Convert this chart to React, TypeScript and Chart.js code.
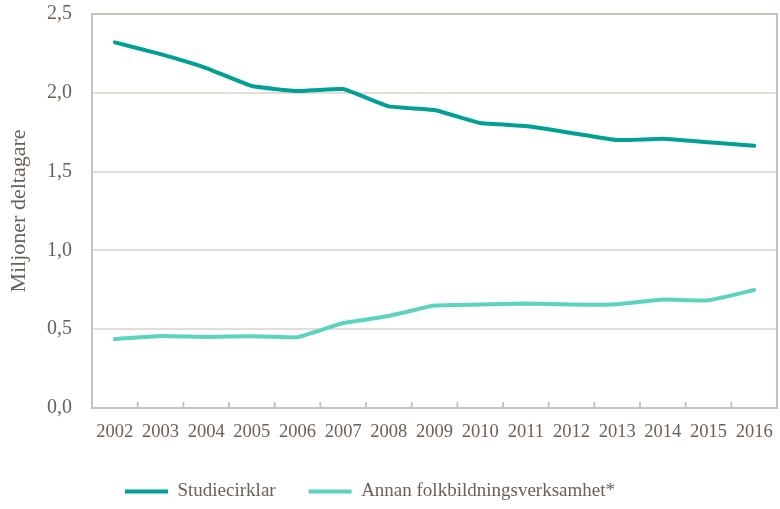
import React, { useEffect, useRef } from "react";
import { Chart, registerables } from "chart.js";

Chart.register(...registerables);

const years = ["2002","2003","2004","2005","2006","2007","2008","2009","2010","2011","2012","2013","2014","2015","2016"];
const studiecirklar = [2.32, 2.245, 2.157, 2.043, 2.011, 2.024, 1.914, 1.891, 1.808, 1.789, 1.745, 1.700, 1.708, 1.686, 1.664];
const annan = [0.438, 0.457, 0.451, 0.455, 0.449, 0.539, 0.584, 0.650, 0.656, 0.663, 0.656, 0.659, 0.688, 0.683, 0.749];
const seriesNames = ["Studiecirklar", "Annan folkbildningsverksamhet*"];
const yTitle = "Miljoner deltagare";

const TEXT = "#6b6057";
const BORDER = "#cbc3bb";
const GRID = "#e3ddd8";
const DARK = "#00a095";
const LIGHT = "#5cd3bd";
const FONT = '"Liberation Serif", "Times New Roman", serif';

const framePlugin = {
  id: "frame",
  beforeDatasetsDraw(chart: any) {
    const { ctx, chartArea } = chart;
    const { left, right, top, bottom } = chartArea;
    const x = chart.scales.x;
    ctx.save();
    ctx.strokeStyle = BORDER;
    ctx.lineWidth = 2;
    ctx.beginPath();
    ctx.rect(left, top, right - left, bottom - top);
    ctx.stroke();
    ctx.beginPath();
    for (let i = 1; i < years.length; i++) {
      const px = (x.getPixelForTick(i - 1) + x.getPixelForTick(i)) / 2;
      ctx.moveTo(px, bottom);
      ctx.lineTo(px, bottom - 6);
    }
    ctx.stroke();
    ctx.restore();
  },
};

export default function App() {
  const ref = useRef<HTMLCanvasElement | null>(null);
  useEffect(() => {
    if (!ref.current) return;
    Chart.defaults.font.family = FONT;
    Chart.defaults.color = TEXT;
    const chart = new Chart(ref.current, {
      type: "line",
      data: {
        labels: years,
        datasets: [
          {
            label: seriesNames[0],
            data: studiecirklar,
            borderColor: DARK,
            backgroundColor: DARK,
            borderWidth: 4,
            pointRadius: 0,
            borderCapStyle: "round",
            borderJoinStyle: "round",
            tension: 0.1,
          },
          {
            label: seriesNames[1],
            data: annan,
            borderColor: LIGHT,
            backgroundColor: LIGHT,
            borderWidth: 4,
            pointRadius: 0,
            borderCapStyle: "round",
            borderJoinStyle: "round",
            tension: 0.1,
          },
        ],
      },
      options: {
        animation: false,
        responsive: false,
        devicePixelRatio: 1,
        layout: { padding: { top: 14, right: 3, left: 0, bottom: 0 } },
        plugins: {
          tooltip: { enabled: false },
          legend: {
            position: "bottom",
            fullSize: false,
            align: "start",
            maxHeight: 60,
            labels: {
              usePointStyle: true,
              pointStyle: "line",
              pointStyleWidth: 43,
              boxHeight: 19,
              padding: 33,
              color: TEXT,
              font: { size: 19, family: FONT },
            },
          },
        },
        scales: {
          x: {
            offset: true,
            grid: { display: false, offset: true },
            border: { display: false },
            ticks: { color: TEXT, font: { size: 18.5, family: FONT }, padding: 5, maxRotation: 0, autoSkip: false },
            afterFit: (s: any) => { s.height = 41; },
          },
          y: {
            min: 0,
            max: 2.5,
            grid: { color: GRID, lineWidth: 2, drawTicks: false },
            border: { display: false },
            ticks: {
              stepSize: 0.5,
              padding: 20,
              color: TEXT,
              font: { size: 20, family: FONT },
              callback: (v: any) => Number(v).toFixed(1).replace(".", ","),
            },
            title: { display: true, text: yTitle, color: TEXT, font: { size: 22, family: FONT }, padding: { top: 6, bottom: 0 } },
            afterFit: (s: any) => { s.width = 92; s.paddingTop = 0; s.paddingBottom = 0; },
          },
        },
      },
      plugins: [framePlugin],
    });
    return () => chart.destroy();
  }, []);
  return (
    <div style={{ position: "absolute", left: 0, top: 0, width: 780, height: 509, background: "#fff" }}>
      <canvas ref={ref} width={780} height={509} />
    </div>
  );
}
